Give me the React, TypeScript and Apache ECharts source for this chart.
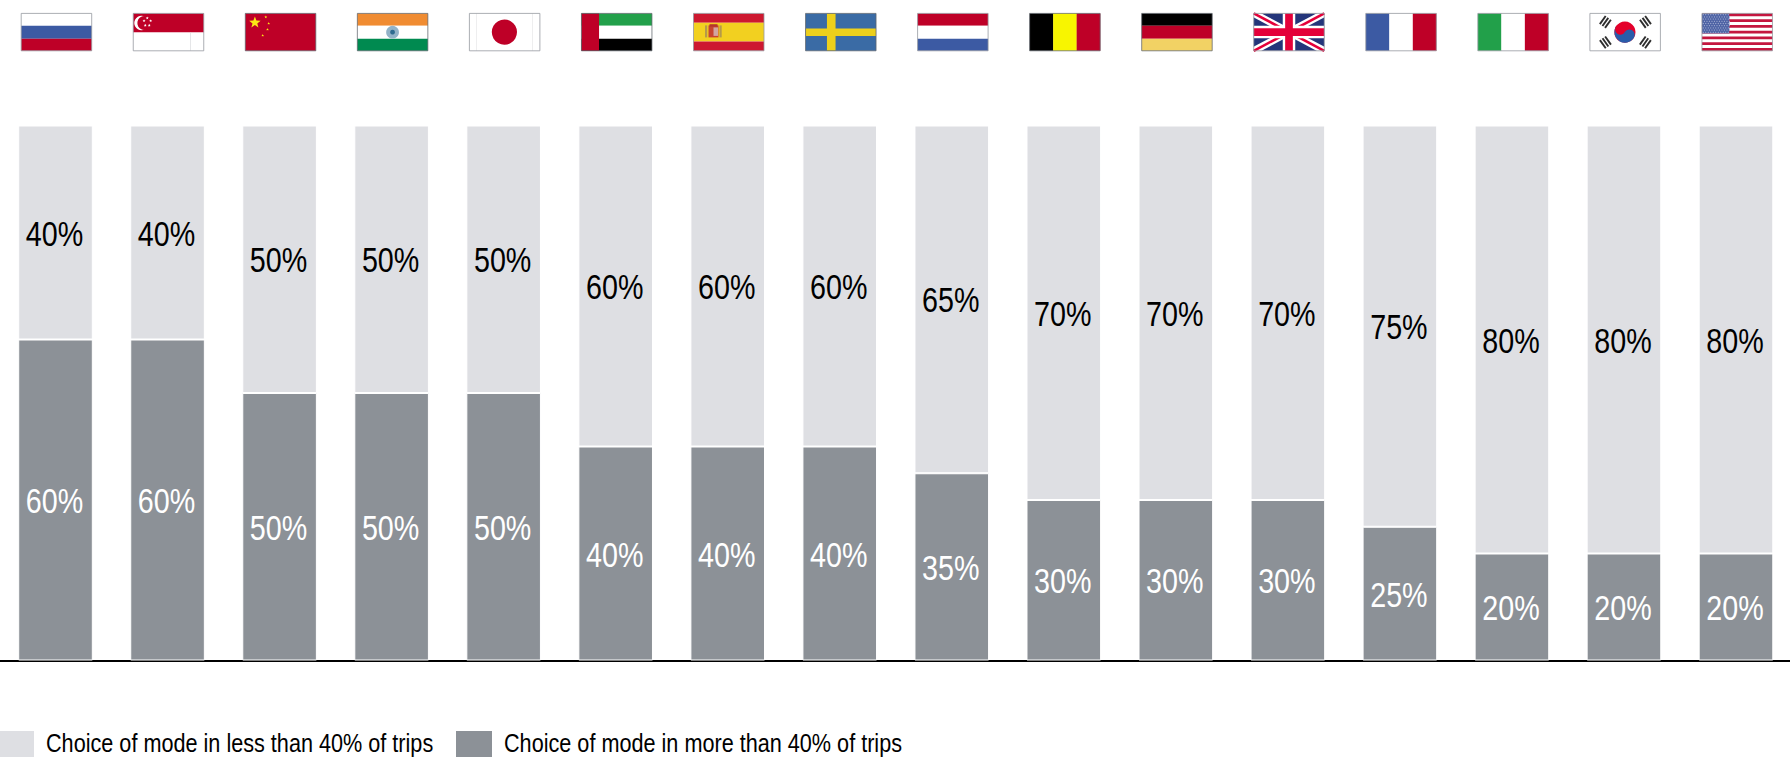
import React, { useEffect, useRef } from "react";
import * as echarts from "echarts";

const countries = ["Russia", "Singapore", "China", "India", "Japan", "UAE", "Spain", "Sweden", "Netherlands", "Belgium", "Germany", "UK", "France", "Italy", "South Korea", "USA"];
const flagCodes = ["RU", "SG", "CN", "IN", "JP", "AE", "ES", "SE", "NL", "BE", "DE", "GB", "FR", "IT", "KR", "US"];
const moreThan40 = [60, 60, 50, 50, 50, 40, 40, 40, 35, 30, 30, 30, 25, 20, 20, 20];
const lessThan40 = [40, 40, 50, 50, 50, 60, 60, 60, 65, 70, 70, 70, 75, 80, 80, 80];
const legendLess = "Choice of mode in less than 40% of trips";
const legendMore = "Choice of mode in more than 40% of trips";

const LIGHT = "#DEDFE3";
const DARK = "#8C9197";
const FONT = '"Liberation Sans", Arial, sans-serif';
// Liberation Sans squeezed horizontally stands in for a narrow grotesque.
const NARROW = 0.82;

const FLAG_W = 70.5;
const FLAG_H = 37.4;
const FLAG_LEFT = 21.2;
const FLAG_TOP = 13.4;
const FLAG_PITCH = 112.05;

const RED = "#BE0027";
const BLUE = "#3C5AA3";
const WHITE = "#FFFFFF";

const rect = (x: number, y: number, width: number, height: number, fill: string) => ({
  type: "rect",
  shape: { x, y, width, height },
  style: { fill },
  silent: true,
});
const disc = (cx: number, cy: number, r: number, fill: string) => ({
  type: "circle",
  shape: { cx, cy, r },
  style: { fill },
  silent: true,
});
const poly = (points: number[][], fill: string) => ({
  type: "polygon",
  shape: { points },
  style: { fill },
  silent: true,
});
const star = (cx: number, cy: number, r: number, fill: string) => {
  const points: number[][] = [];
  for (let k = 0; k < 10; k++) {
    const a = -Math.PI / 2 + (k * Math.PI) / 5;
    const rr = k % 2 ? r * 0.42 : r;
    points.push([cx + rr * Math.cos(a), cy + rr * Math.sin(a)]);
  }
  return poly(points, fill);
};

const hBands = (colors: string[], stops: number[]) =>
  colors.map((c, i) => rect(0, stops[i], FLAG_W, stops[i + 1] - stops[i], c));
const vBands = (colors: string[]) =>
  colors.map((c, i) => rect((i * FLAG_W) / 3, 0, FLAG_W / 3 + 0.2, FLAG_H, c));

const trigram = (x: number, y: number, rotation: number) => ({
  type: "group",
  x,
  y,
  rotation,
  silent: true,
  children: [rect(-5, -4.2, 10, 1.9, "#2E2E2E"), rect(-5, -1, 10, 1.9, "#2E2E2E"), rect(-5, 2.2, 10, 1.9, "#2E2E2E")],
});

const diagonal = (x1: number, y1: number, x2: number, y2: number, half: number, fill: string) => {
  const dx = x2 - x1;
  const dy = y2 - y1;
  const len = Math.hypot(dx, dy);
  const nx = (-dy / len) * half;
  const ny = (dx / len) * half;
  return poly(
    [
      [x1 + nx, y1 + ny],
      [x2 + nx, y2 + ny],
      [x2 - nx, y2 - ny],
      [x1 - nx, y1 - ny],
    ],
    fill,
  );
};

// Each flag is built in its own local box of FLAG_W by FLAG_H.
const flagParts: Record<string, () => any[]> = {
  RU: () => hBands([WHITE, BLUE, RED], [0, 12.3, 25.4, FLAG_H]),
  SG: () => [
    rect(0, 0, FLAG_W, 19, RED),
    rect(0, 19, FLAG_W, FLAG_H - 19, WHITE),
    rect(57, 19, 0.6, FLAG_H - 19, "#D4D5D8"),
    disc(8.2, 9.6, 7.2, WHITE),
    disc(11, 9.6, 6.9, RED),
    star(14, 4.6, 1.6, WHITE),
    star(10.8, 7.4, 1.6, WHITE),
    star(17.4, 7.4, 1.6, WHITE),
    star(12, 12, 1.6, WHITE),
    star(16, 12, 1.6, WHITE),
  ],
  CN: () => [
    rect(0, 0, FLAG_W, FLAG_H, RED),
    star(9.6, 9.2, 6, "#FBE715"),
    star(20.5, 3.6, 1.5, "#FBE715"),
    star(23.4, 10, 1.5, "#FBE715"),
    star(22.2, 16, 1.5, "#FBE715"),
    star(17.4, 22, 1.5, "#FBE715"),
  ],
  IN: () => [
    ...hBands(["#F08C32", WHITE, "#008A50"], [0, 12.3, 25.4, FLAG_H]),
    disc(35.2, 18.8, 6.4, "#93B3C8"),
    disc(35.2, 18.8, 2.4, "#2F6C90"),
  ],
  JP: () => [
    rect(0, 0, FLAG_W, FLAG_H, WHITE),
    rect(6.8, 0, 0.6, FLAG_H, "#E2E3E5"),
    rect(63, 0, 0.6, FLAG_H, "#E2E3E5"),
    disc(35, 18.7, 12.6, RED),
  ],
  AE: () => [
    ...hBands(["#22A04A", WHITE, "#000000"], [0, 12.3, 25.4, FLAG_H]),
    rect(0, 0, 17.6, FLAG_H, RED),
  ],
  ES: () => [
    ...hBands(["#CD1830", "#F2D020", "#CD1830"], [0, 9.3, 28, FLAG_H]),
    rect(11.5, 12, 2.2, 12, "#B59A4A"),
    rect(26, 12, 2.2, 12, "#B59A4A"),
    rect(15, 12, 10, 12, "#C8452F"),
    rect(20, 14, 4.5, 8.5, "#D2A6A0"),
    rect(16, 10.8, 8, 2.4, "#B5352B"),
  ],
  SE: () => [rect(0, 0, FLAG_W, FLAG_H, "#3A6BA5"), rect(21.4, 0, 8.6, FLAG_H, "#EDD01C"), rect(0, 15, FLAG_W, 7.5, "#EDD01C")],
  NL: () => hBands([RED, WHITE, BLUE], [0, 12.3, 25.4, FLAG_H]),
  BE: () => vBands(["#000000", "#F8F500", RED]),
  DE: () => hBands(["#000000", RED, "#F2D264"], [0, 12.3, 25.4, FLAG_H]),
  GB: () => [
    rect(0, 0, FLAG_W, FLAG_H, "#24357A"),
    diagonal(0, 0, FLAG_W, FLAG_H, 3.6, WHITE),
    diagonal(0, FLAG_H, FLAG_W, 0, 3.6, WHITE),
    diagonal(0, 0, FLAG_W, FLAG_H, 1.3, "#E4003A"),
    diagonal(0, FLAG_H, FLAG_W, 0, 1.3, "#E4003A"),
    rect(29, 0, 12.5, FLAG_H, WHITE),
    rect(0, 12.4, FLAG_W, 12.5, WHITE),
    rect(31.4, 0, 7.7, FLAG_H, "#E4003A"),
    rect(0, 14.8, FLAG_W, 7.7, "#E4003A"),
  ],
  FR: () => vBands([BLUE, WHITE, RED]),
  IT: () => vBands(["#22A04A", WHITE, RED]),
  KR: () => {
    const cx = 35;
    const cy = 18.7;
    const r = 10.6;
    const tilt = 0.55;
    const ox = (r / 2) * Math.cos(tilt);
    const oy = (r / 2) * Math.sin(tilt);
    return [
      rect(0, 0, FLAG_W, FLAG_H, WHITE),
      disc(cx, cy, r, "#E4002B"),
      {
        type: "sector",
        shape: { cx, cy, r, startAngle: tilt, endAngle: tilt + Math.PI },
        style: { fill: "#2A5CAA" },
        silent: true,
      },
      disc(cx - ox, cy - oy, r / 2, "#E4002B"),
      disc(cx + ox, cy + oy, r / 2, "#2A5CAA"),
      trigram(15.5, 8.6, 0.95),
      trigram(55.5, 8.6, -0.95),
      trigram(15.5, 29, -0.95),
      trigram(55.5, 29, 0.95),
    ];
  },
  US: () => {
    const stripeH = FLAG_H / 13;
    const parts: any[] = [rect(0, 0, FLAG_W, FLAG_H, WHITE)];
    for (let s = 0; s < 13; s += 2) parts.push(rect(0, s * stripeH, FLAG_W, stripeH, "#C4163F"));
    parts.push(rect(0, 0, 27.4, 20, "#4D62A4"));
    for (let row = 0; row < 9; row++) {
      for (let col = 0; col < 11; col++) {
        parts.push(disc(1.3 + col * 2.5 + (row % 2 ? 1.2 : 0), 1.3 + row * 2.2, 0.55, "#A9B4D6"));
      }
    }
    return parts;
  },
};

const FRAME_DARK = new Set(["BE", "DE", "SE", "AE", "IN", "CN"]);

const flagGraphics = flagCodes.map((code, i) => ({
  type: "group",
  x: FLAG_LEFT + i * FLAG_PITCH,
  y: FLAG_TOP,
  silent: true,
  children: [
    ...flagParts[code](),
    {
      type: "rect",
      shape: { x: 0, y: 0, width: FLAG_W, height: FLAG_H },
      style: { fill: "none", stroke: FRAME_DARK.has(code) ? "rgba(95,100,108,0.75)" : "rgba(150,154,160,0.8)", lineWidth: 1 },
      silent: true,
    },
  ],
}));

// A swatch and its caption, placed under the axis.
const legendEntry = (swatchX: number, swatchW: number, textX: number, text: string, fill: string) => [
  rect(swatchX, 731, swatchW, 26, fill),
  {
    type: "text",
    x: textX,
    y: 743,
    scaleX: NARROW,
    silent: true,
    style: { text, fill: "#000000", font: `26.4px ${FONT}`, textAlign: "left", textVerticalAlign: "middle" },
  },
];

export default function App() {
  const ref = useRef<HTMLDivElement>(null);

  useEffect(() => {
    document.body.style.margin = "0";
    const chart = echarts.init(ref.current!, null, { renderer: "svg" });

    const segment = (name: string, data: number[], color: string) => ({
      name,
      type: "bar",
      stack: "share",
      data,
      barWidth: 74.6,
      itemStyle: { color, borderColor: "#FFFFFF", borderWidth: 1 },
    });

    // Percentage captions sit at the middle of each stacked segment.
    const captions = (name: string, bases: number[], values: number[], fill: string) => ({
      name,
      type: "custom",
      data: values.map((v, i) => [i, bases[i] + v / 2, v]),
      encode: { x: 0, y: 1 },
      z: 5,
      silent: true,
      renderItem: (_: any, api: any) => {
        const [x, y] = api.coord([api.value(0), api.value(1)]);
        return {
          type: "text",
          x: x - 1,
          y: y + 1,
          scaleX: NARROW,
          style: {
            text: `${api.value(2)}%`,
            fill,
            font: `35px ${FONT}`,
            textAlign: "center",
            textVerticalAlign: "middle",
          },
        };
      },
    });

    chart.setOption({
      animation: false,
      backgroundColor: "#FFFFFF",
      grid: { left: -0.5, top: 125.5, width: 1792.5, height: 535, outerBoundsMode: "none" },
      xAxis: {
        type: "category",
        data: countries,
        axisTick: { show: false },
        axisLabel: { show: false },
        axisLine: { lineStyle: { color: "#000000", width: 2 } },
      },
      yAxis: { type: "value", min: 0, max: 100, show: false },
      series: [
        segment(legendMore, moreThan40, DARK),
        segment(legendLess, lessThan40, LIGHT),
        captions("more labels", moreThan40.map(() => 0), moreThan40, "#FFFFFF"),
        captions("less labels", moreThan40, lessThan40, "#000000"),
      ],
      graphic: {
        elements: [
          ...flagGraphics,
          ...legendEntry(0, 34, 46, legendLess, LIGHT),
          ...legendEntry(456, 36, 504, legendMore, DARK),
        ],
      },
    });
    return () => chart.dispose();
  }, []);

  return <div ref={ref} style={{ width: 1790, height: 763 }} />;
}
